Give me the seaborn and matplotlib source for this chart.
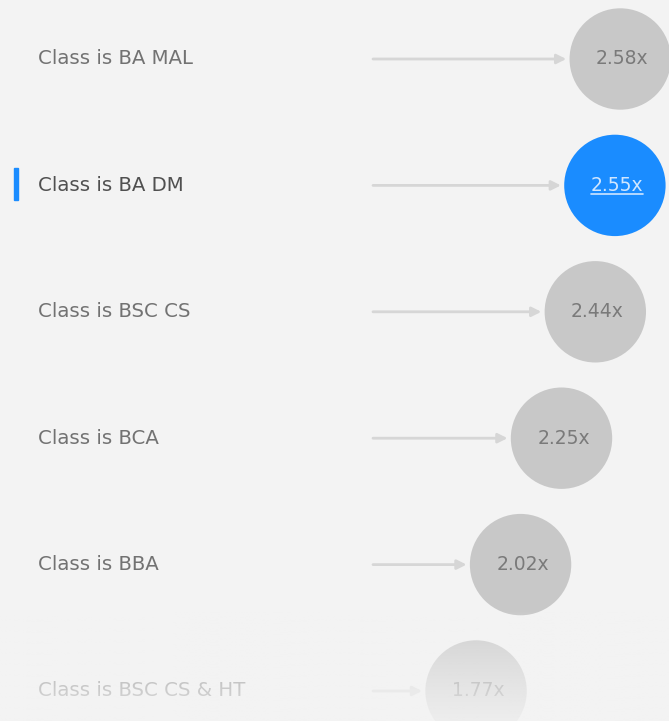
import numpy as np
import pandas as pd
import matplotlib
matplotlib.use('Agg')
import matplotlib.pyplot as plt
import seaborn as sns
from matplotlib.patches import Rectangle

# data
classes = ['BA MAL', 'BA DM', 'BSC CS', 'BCA', 'BBA', 'BSC CS & HT']
lifts = [2.58, 2.55, 2.44, 2.25, 2.02, 1.77]
highlighted = 'BA DM'

df = pd.DataFrame({'label': ['Class is ' + c for c in classes],
                   'lift': lifts,
                   'row': range(len(classes))})
df['state'] = np.where(np.array(classes) == highlighted, 'on', 'off')

BG = '#f3f3f3'
sns.set_theme(style='white', rc={'axes.facecolor': BG, 'figure.facecolor': BG})
plt.rcParams['font.family'] = ['DejaVu Sans']

fig = plt.figure(figsize=(6.69, 7.21), dpi=100)
ax = fig.add_axes([0, 0, 1, 1])

# pixel x = 161 + 178 * value ; rows every ~126.4 px starting at y=59
px_per_unit = 178.0
ax.set_xlim(-161 / px_per_unit, (669 - 161) / px_per_unit)
ax.set_ylim((721 - 59) / 126.4, -59 / 126.4)
ax.axis('off')

radius = 51 / px_per_unit
line_start = (373 - 161) / px_per_unit

for _, r in df.iterrows():
    ax.annotate('', xy=(r['lift'] - radius - 3 / px_per_unit, r['row']),
                xytext=(line_start, r['row']),
                arrowprops=dict(arrowstyle='-|>', color='#d6d6d6', lw=2.0,
                                mutation_scale=14, shrinkA=0, shrinkB=0))
    dark = r['state'] == 'on'
    ax.text(38 / px_per_unit - 161 / px_per_unit, r['row'], r['label'],
            fontsize=14.2, color='#505050' if dark else '#727272',
            va='center', ha='left')

sns.scatterplot(data=df, x='lift', y='row', hue='state',
                palette={'off': '#c8c8c8', 'on': '#1a8cff'},
                s=73 ** 2, linewidth=0, legend=False, ax=ax, zorder=3)

for _, r in df.iterrows():
    on = r['state'] == 'on'
    t = ax.text(r['lift'] + 2 / px_per_unit, r['row'], '%.2fx' % r['lift'],
                fontsize=13.5, color='#cfe6ff' if on else '#7a7a7a',
                ha='center', va='center', zorder=4)
    if on:
        fig.canvas.draw()
        bb = t.get_window_extent().transformed(ax.transData.inverted())
        ax.plot([bb.x0, bb.x1], [bb.y0 - 0.005, bb.y0 - 0.005], color='#cfe6ff',
                lw=1.2, zorder=4)

# selection marker next to highlighted row
fig.patches.append(Rectangle((14 / 669, 1 - 200 / 721), 4 / 669, 32 / 721,
                             transform=fig.transFigure, color='#1a8cff'))

# bottom fade
fade = fig.add_axes([0, 0, 1, 110 / 721])
fade.axis('off')
grad = np.zeros((100, 2, 4))
grad[..., :3] = np.array([243, 243, 243]) / 255
grad[..., 3] = (np.linspace(0, 1, 100) ** 0.7 * 0.88)[:, None]
fade.imshow(grad, aspect='auto', extent=[0, 1, 0, 1], origin='upper')
fade.set_xlim(0, 1)
fade.set_ylim(0, 1)

fig.savefig('out.png', dpi=100, facecolor=BG)
